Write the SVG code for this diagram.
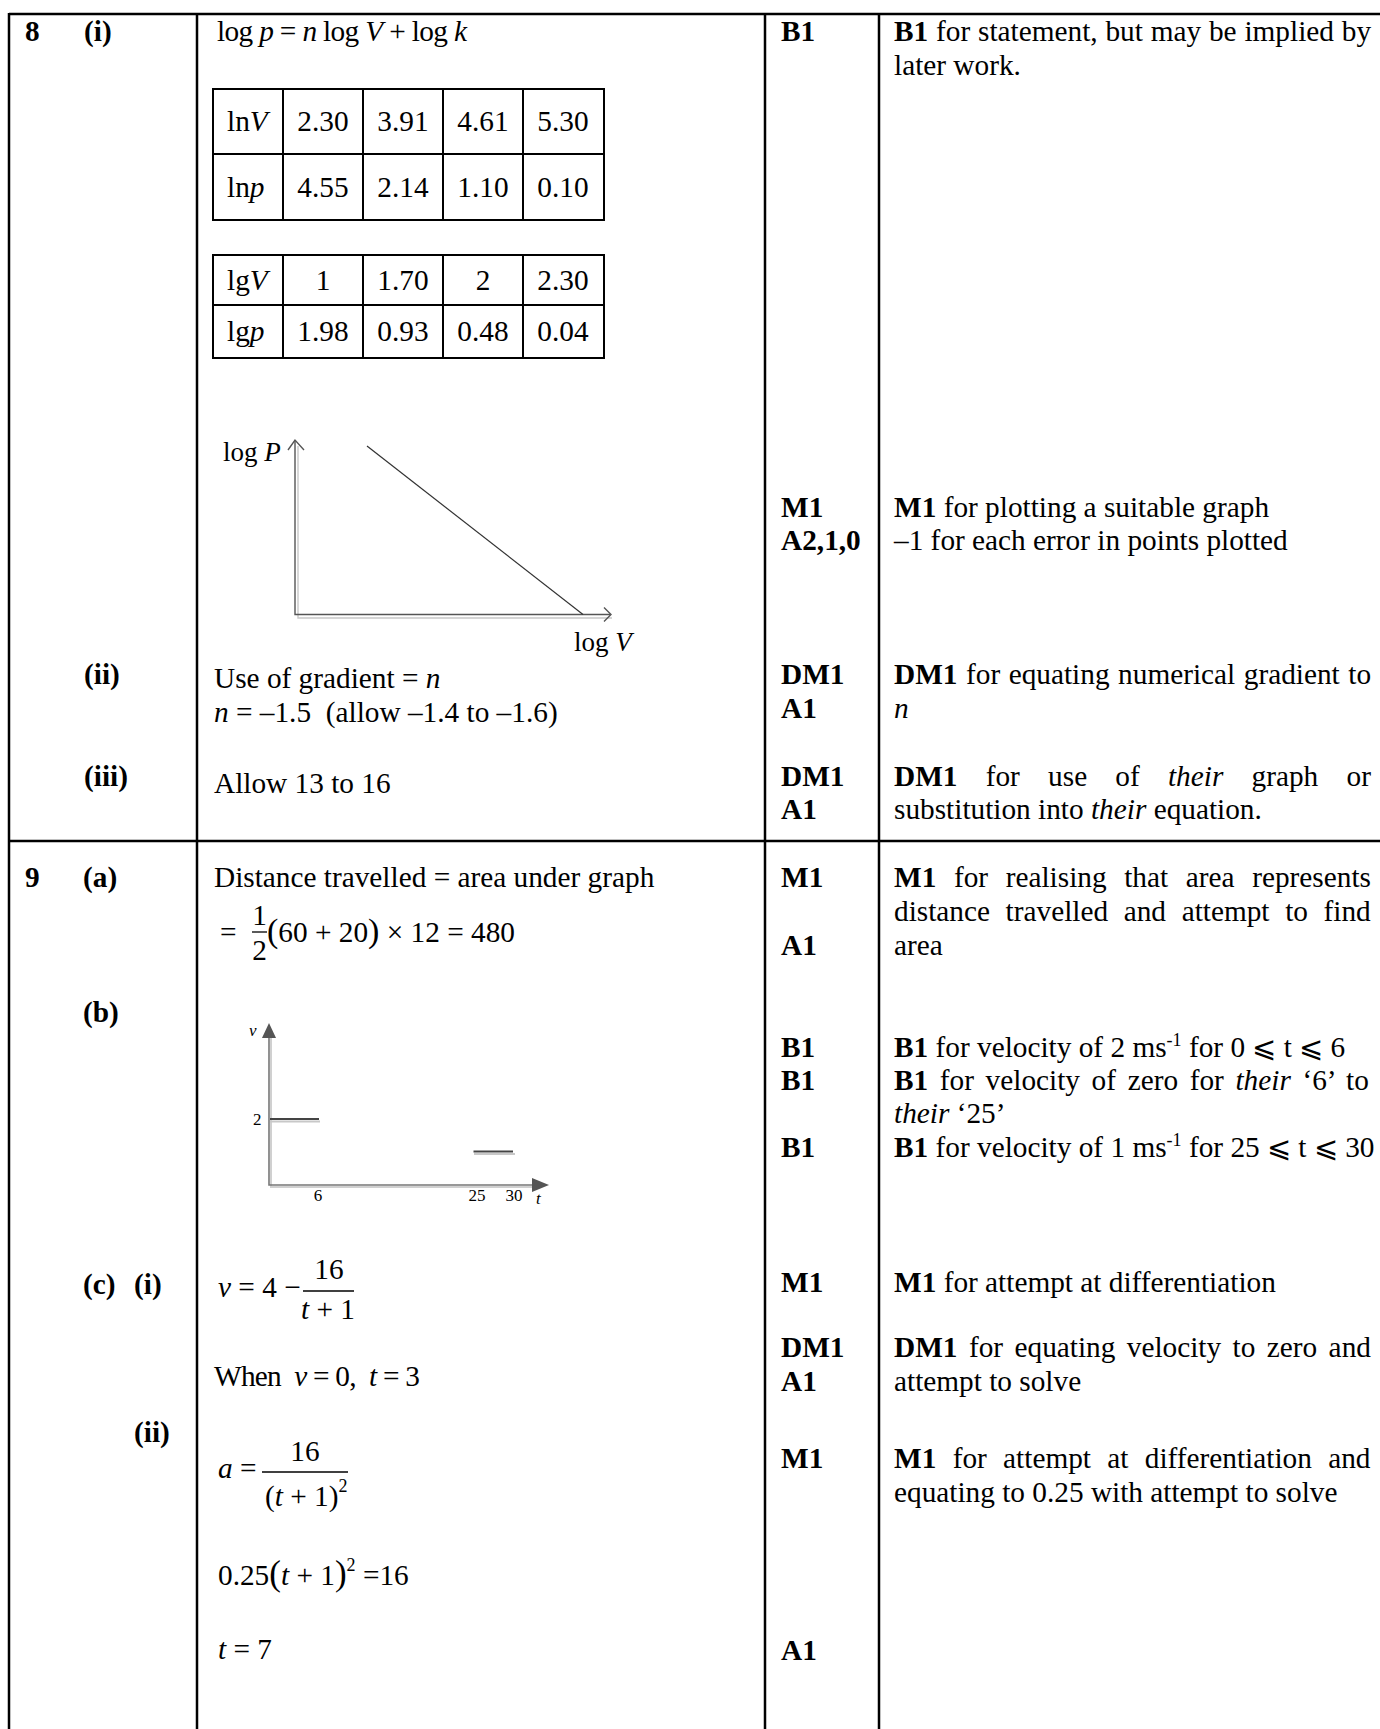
<svg xmlns="http://www.w3.org/2000/svg" width="1380" height="1729" viewBox="0 0 1380 1729">
<style>
text{font-family:'Liberation Serif','Times New Roman','DejaVu Serif',serif;font-size:29.3px;fill:#000}
.b{font-weight:bold}
.i{font-style:italic}
.c{text-anchor:middle}
.sm{font-size:17px}
.sup{font-size:18px}
.grid{stroke:#000;stroke-width:2.5;fill:none}
.cell{stroke:#000;stroke-width:2;fill:none}
.ax{stroke:#555;stroke-width:1.4;fill:none}
.sh{stroke:#c8c8c8;stroke-width:1.4;fill:none}
.ln{stroke:#333;stroke-width:1.2;fill:none}
.bar{stroke:#000;stroke-width:1.3}
</style>

<g id="table-grid">
<line class="grid" x1="9" y1="14" x2="1380" y2="14"/>
<line class="grid" x1="9" y1="841" x2="1380" y2="841"/>
<line class="grid" x1="9" y1="13" x2="9" y2="1729"/>
<line class="grid" x1="197" y1="13" x2="197" y2="1729"/>
<line class="grid" x1="765" y1="13" x2="765" y2="1729"/>
<line class="grid" x1="879" y1="13" x2="879" y2="1729"/>
</g>

<g id="q-labels">
<text class="b" x="25" y="41">8</text>
<text class="b" x="84" y="41">(i)</text>
<text class="b" x="84" y="684">(ii)</text>
<text class="b" x="84" y="786">(iii)</text>
<text class="b" x="25" y="887">9</text>
<text class="b" x="83" y="887">(a)</text>
<text class="b" x="83" y="1022">(b)</text>
<text class="b" x="83" y="1294">(c)</text>
<text class="b" x="134" y="1294">(i)</text>
<text class="b" x="134" y="1442">(ii)</text>
</g>

<g id="q8-answer">
<text x="217" y="41" textLength="250" lengthAdjust="spacing">log <tspan class="i">p</tspan> = <tspan class="i">n</tspan> log <tspan class="i">V</tspan> + log <tspan class="i">k</tspan></text>

<g id="table-ln">
<rect class="cell" x="213" y="89" width="391" height="131"/>
<line class="cell" x1="213" y1="154" x2="604" y2="154"/>
<line class="cell" x1="283" y1="89" x2="283" y2="220"/>
<line class="cell" x1="363" y1="89" x2="363" y2="220"/>
<line class="cell" x1="443" y1="89" x2="443" y2="220"/>
<line class="cell" x1="523" y1="89" x2="523" y2="220"/>
<text x="227" y="131">ln<tspan class="i">V</tspan></text>
<text class="c" x="323" y="131">2.30</text>
<text class="c" x="403" y="131">3.91</text>
<text class="c" x="483" y="131">4.61</text>
<text class="c" x="563" y="131">5.30</text>
<text x="227" y="197">ln<tspan class="i">p</tspan></text>
<text class="c" x="323" y="197">4.55</text>
<text class="c" x="403" y="197">2.14</text>
<text class="c" x="483" y="197">1.10</text>
<text class="c" x="563" y="197">0.10</text>
</g>

<g id="table-lg">
<rect class="cell" x="213" y="255" width="391" height="103"/>
<line class="cell" x1="213" y1="305" x2="604" y2="305"/>
<line class="cell" x1="283" y1="255" x2="283" y2="358"/>
<line class="cell" x1="363" y1="255" x2="363" y2="358"/>
<line class="cell" x1="443" y1="255" x2="443" y2="358"/>
<line class="cell" x1="523" y1="255" x2="523" y2="358"/>
<text x="227" y="290">lg<tspan class="i">V</tspan></text>
<text class="c" x="323" y="290">1</text>
<text class="c" x="403" y="290">1.70</text>
<text class="c" x="483" y="290">2</text>
<text class="c" x="563" y="290">2.30</text>
<text x="227" y="341">lg<tspan class="i">p</tspan></text>
<text class="c" x="323" y="341">1.98</text>
<text class="c" x="403" y="341">0.93</text>
<text class="c" x="483" y="341">0.48</text>
<text class="c" x="563" y="341">0.04</text>
</g>

<g id="graph-log">
<polyline class="sh" points="298,446 298,618 612,618"/>
<polyline class="ax" points="295,441 295,614.5 610,614.5"/>
<polyline class="ax" points="288,450 295,440 304,450"/>
<polyline class="ax" points="604,607.5 611,614.5 604,621.5"/>
<line class="ln" x1="367" y1="446" x2="583" y2="614.5"/>
<text x="223" y="461" style="font-size:27px">log <tspan class="i">P</tspan></text>
<text x="574" y="651" style="font-size:27px">log <tspan class="i">V</tspan></text>
</g>

<text x="214" y="688">Use of gradient = <tspan class="i">n</tspan></text>
<text x="214" y="722" xml:space="preserve"><tspan class="i">n</tspan> = –1.5  (allow –1.4 to –1.6)</text>
<text x="214" y="793">Allow 13 to 16</text>
</g>

<g id="q9-answer">
<text x="214" y="887">Distance travelled = area under graph</text>
<text x="220" y="942">=</text>
<text class="c" x="259.5" y="925">1</text>
<line class="bar" x1="252" y1="932" x2="267" y2="932"/>
<text class="c" x="259.5" y="960">2</text>
<text x="267" y="942"><tspan style="font-size:34px">(</tspan>60 + 20<tspan style="font-size:34px">)</tspan> × 12 = 480</text>

<g id="graph-v">
<polyline points="271,1036 271,1187 533,1187" fill="none" stroke="#d0d0d0" stroke-width="2"/>
<polyline points="269,1036 269,1185 533,1185" fill="none" stroke="#777" stroke-width="1.6"/>
<polygon points="269,1023 262,1038 276,1038" fill="#555"/>
<polygon points="549,1185 532,1178 532,1192" fill="#555"/>
<line x1="270" y1="1121.5" x2="320" y2="1121.5" stroke="#c8c8c8" stroke-width="2"/>
<line x1="270" y1="1119" x2="319" y2="1119" stroke="#444" stroke-width="1.8"/>
<line x1="474" y1="1154" x2="515" y2="1154" stroke="#c8c8c8" stroke-width="2"/>
<line x1="473.5" y1="1151.5" x2="513" y2="1151.5" stroke="#444" stroke-width="1.8"/>
<text class="sm i" x="249" y="1036">v</text>
<text class="sm" x="253" y="1125">2</text>
<text class="sm c" x="318" y="1201">6</text>
<text class="sm c" x="477" y="1201">25</text>
<text class="sm c" x="514" y="1201">30</text>
<text class="sm i" x="536" y="1204">t</text>
</g>

<text x="218" y="1297"><tspan class="i">v</tspan> = 4 −</text>
<text class="c" x="329" y="1279">16</text>
<line class="bar" x1="303" y1="1291" x2="354" y2="1291"/>
<text class="c" x="328" y="1319"><tspan class="i">t</tspan> + 1</text>

<text x="214" y="1386" xml:space="preserve" textLength="206" lengthAdjust="spacing">When  <tspan class="i">v</tspan> = 0,  <tspan class="i">t</tspan> = 3</text>

<text x="218" y="1478"><tspan class="i">a</tspan> =</text>
<text class="c" x="305" y="1461">16</text>
<line class="bar" x1="262" y1="1472" x2="348" y2="1472"/>
<text x="265" y="1506">(<tspan class="i">t</tspan> + 1)<tspan class="sup" dy="-14">2</tspan></text>

<text x="218" y="1585">0.25<tspan style="font-size:35px">(</tspan><tspan class="i">t</tspan> + 1<tspan style="font-size:35px">)</tspan><tspan class="sup" dy="-14">2</tspan><tspan dy="14"> =16</tspan></text>

<text x="218" y="1659"><tspan class="i">t</tspan> = 7</text>
</g>

<g id="marks">
<text class="b" x="781" y="41">B1</text>
<text class="b" x="781" y="517">M1</text>
<text class="b" x="781" y="550">A2,1,0</text>
<text class="b" x="781" y="684">DM1</text>
<text class="b" x="781" y="718">A1</text>
<text class="b" x="781" y="786">DM1</text>
<text class="b" x="781" y="819">A1</text>
<text class="b" x="781" y="887">M1</text>
<text class="b" x="781" y="955">A1</text>
<text class="b" x="781" y="1057">B1</text>
<text class="b" x="781" y="1090">B1</text>
<text class="b" x="781" y="1157">B1</text>
<text class="b" x="781" y="1292">M1</text>
<text class="b" x="781" y="1357">DM1</text>
<text class="b" x="781" y="1391">A1</text>
<text class="b" x="781" y="1468">M1</text>
<text class="b" x="781" y="1660">A1</text>
</g>

<g id="notes">
<text x="894" y="41" style="word-spacing:0.5px"><tspan class="b">B1</tspan> for statement, but may be implied by</text>
<text x="894" y="75">later work.</text>
<text x="894" y="517"><tspan class="b">M1</tspan> for plotting a suitable graph</text>
<text x="894" y="550">–1 for each error in points plotted</text>
<text x="894" y="684" style="word-spacing:1.2px"><tspan class="b">DM1</tspan> for equating numerical gradient to</text>
<text x="894" y="718" class="i">n</text>
<text x="894" y="786" style="word-spacing:20.9px"><tspan class="b">DM1</tspan> for use of <tspan class="i">their</tspan> graph or</text>
<text x="894" y="819">substitution into <tspan class="i">their</tspan> equation.</text>
<text x="894" y="887" style="word-spacing:10.3px"><tspan class="b">M1</tspan> for realising that area represents</text>
<text x="894" y="921" style="word-spacing:8.3px">distance travelled and attempt to find</text>
<text x="894" y="955">area</text>
<text x="894" y="1057"><tspan class="b">B1</tspan> for velocity of 2 ms<tspan class="sup" dy="-11">-1</tspan><tspan dy="11"> for 0 ⩽ t ⩽ 6</tspan></text>
<text x="894" y="1090" style="word-spacing:4.3px"><tspan class="b">B1</tspan> for velocity of zero for <tspan class="i">their</tspan> ‘6’ to</text>
<text x="894" y="1123"><tspan class="i">their</tspan> ‘25’</text>
<text x="894" y="1157"><tspan class="b">B1</tspan> for velocity of 1 ms<tspan class="sup" dy="-11">-1</tspan><tspan dy="11"> for 25 ⩽ t ⩽ 30</tspan></text>
<text x="894" y="1292"><tspan class="b">M1</tspan> for attempt at differentiation</text>
<text x="894" y="1357" style="word-spacing:4.1px"><tspan class="b">DM1</tspan> for equating velocity to zero and</text>
<text x="894" y="1391">attempt to solve</text>
<text x="894" y="1468" style="word-spacing:9px"><tspan class="b">M1</tspan> for attempt at differentiation and</text>
<text x="894" y="1502">equating to 0.25 with attempt to solve</text>
</g>
</svg>
